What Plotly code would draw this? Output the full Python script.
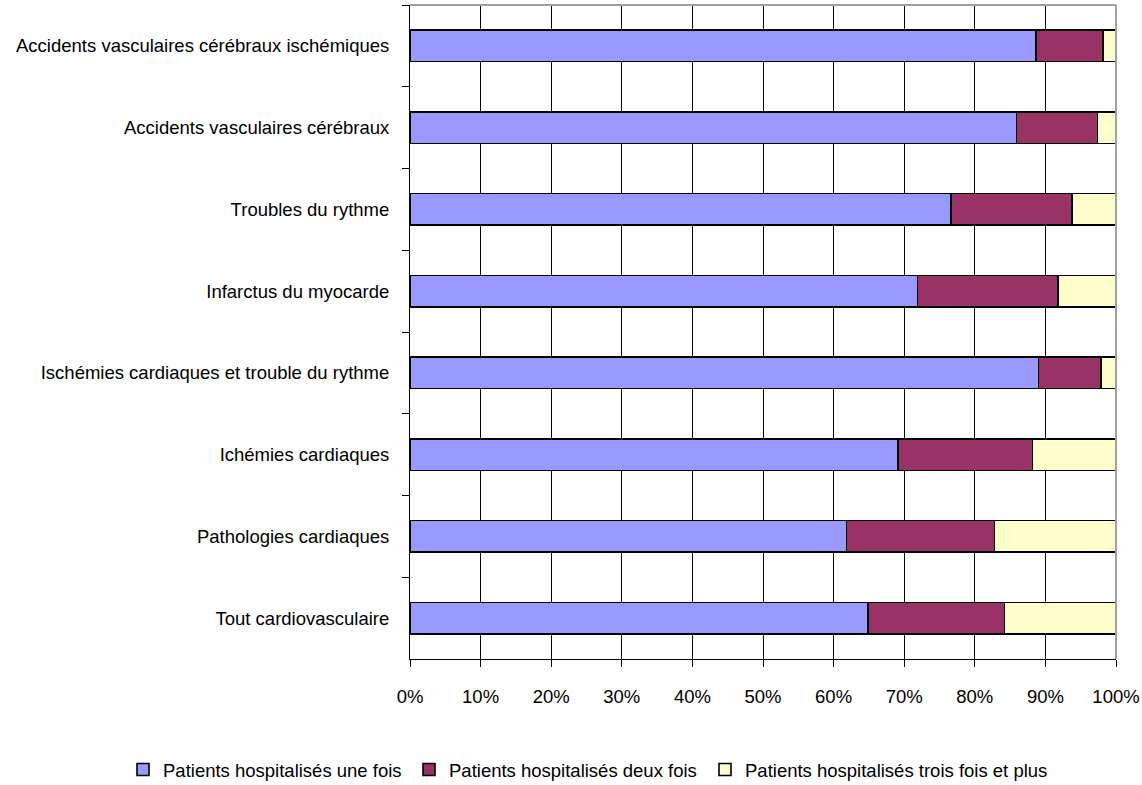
import plotly.graph_objects as go

categories = [
    "Accidents vasculaires cérébraux ischémiques",
    "Accidents vasculaires cérébraux",
    "Troubles du rythme",
    "Infarctus du myocarde",
    "Ischémies cardiaques et trouble du rythme",
    "Ichémies cardiaques",
    "Pathologies cardiaques",
    "Tout cardiovasculaire",
]
une_fois = [88.7, 85.9, 76.6, 71.9, 89.0, 69.1, 61.8, 64.9]
deux_fois = [9.5, 11.5, 17.2, 19.9, 8.9, 19.1, 21.0, 19.3]
trois_fois = [1.8, 2.6, 6.2, 8.2, 2.1, 11.8, 17.2, 15.8]

series_names = [
    "Patients hospitalisés une fois",
    "Patients hospitalisés deux fois",
    "Patients hospitalisés trois fois et plus",
]
colors = ["#9999FF", "#993366", "#FFFFCC"]
tick_vals = [0, 10, 20, 30, 40, 50, 60, 70, 80, 90, 100]
tick_text = [f"{v}%" for v in tick_vals]

FONT = "Liberation Sans, Arial, sans-serif"
W, H = 1142, 785
legend_ids = ["legend", "legend2", "legend3"]
legend_left_px = [123, 409, 705]

fig = go.Figure()
for name, vals, col, lg in zip(series_names, [une_fois, deux_fois, trois_fois], colors, legend_ids):
    fig.add_trace(go.Bar(
        y=categories, x=vals, name=name, orientation="h", legend=lg,
        marker=dict(color=col, line=dict(color="black", width=1.6)),
    ))

legend_common = dict(
    orientation="h", xref="container", yref="container",
    xanchor="left", y=1 - 770 / H, yanchor="middle",
    font=dict(family=FONT, size=18.5, color="black"),
    itemwidth=30, bgcolor="rgba(0,0,0,0)",
)
fig.update_layout(
    barmode="stack",
    bargap=0.615,
    width=W, height=H,
    margin=dict(l=410, r=26, t=5, b=126, autoexpand=False),
    plot_bgcolor="white", paper_bgcolor="white",
    font=dict(family=FONT, size=18.5, color="black"),
    legend=dict(x=legend_left_px[0] / W, **legend_common),
    legend2=dict(x=legend_left_px[1] / W, **legend_common),
    legend3=dict(x=legend_left_px[2] / W, **legend_common),
    showlegend=True,
)
fig.update_xaxes(
    range=[0, 100], tickvals=tick_vals, ticktext=tick_text,
    showgrid=True, gridcolor="black", gridwidth=1,
    showline=True, linecolor="black", linewidth=1,
    ticks="outside", ticklen=7, tickcolor="black",
    ticklabelstandoff=14, zeroline=False, automargin=False,
)
fig.update_yaxes(
    autorange="reversed", showgrid=False,
    showline=True, linecolor="black", linewidth=1,
    ticks="outside", ticklen=7, tickcolor="black",
    tickson="boundaries", ticklabelstandoff=16, automargin=False,
)
# light grey frame on top and right edges
fig.add_shape(type="line", xref="paper", yref="paper", x0=0, x1=1, y0=1, y1=1,
              line=dict(color="#a0a0a0", width=2))
fig.add_shape(type="line", xref="paper", yref="paper", x0=1, x1=1, y0=0, y1=1,
              line=dict(color="#a0a0a0", width=2))

fig.write_html("out.html", config={"displayModeBar": False},
               post_script="document.body.style.margin='0';")
